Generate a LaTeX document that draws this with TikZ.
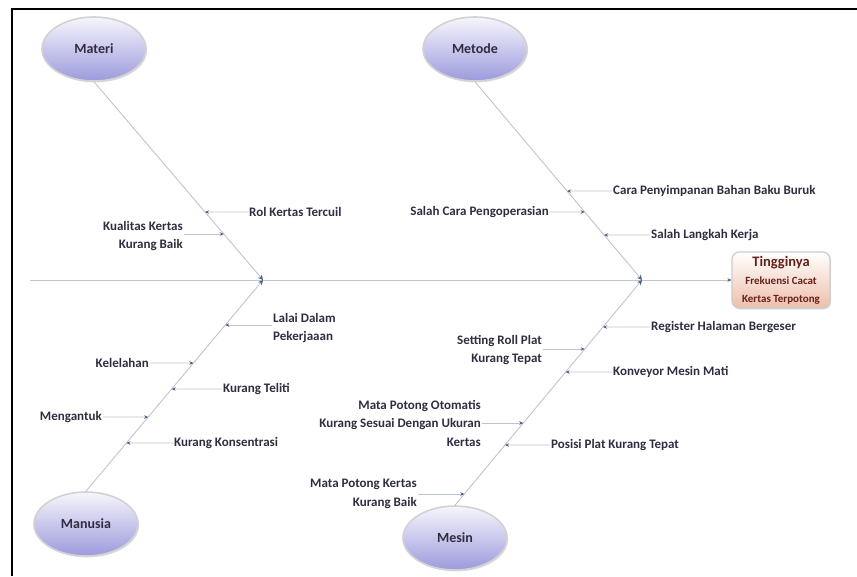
\documentclass[tikz,border=0pt]{standalone}
\usepackage{fontspec}
\setmainfont{Carlito}
\usetikzlibrary{arrows.meta,shadows,shapes.geometric}
\definecolor{txt}{RGB}{50,44,64}
\definecolor{bonec}{RGB}{190,196,208}
\definecolor{tipc}{RGB}{80,95,125}
\definecolor{elltop}{RGB}{246,246,252}
\definecolor{ellbot}{RGB}{156,154,220}
\definecolor{boxbot}{RGB}{238,190,170}
\definecolor{efftxt}{RGB}{100,34,26}
\newcommand\onbone[3]{\coordinate (#3) at (intersection of #1 and 0,#2--100,#2);}
\begin{document}
\begin{tikzpicture}[x=1pt,y=-1pt,
  cat/.style={ellipse, minimum width=104pt, minimum height=64pt, top color=elltop, bottom color=ellbot,
    draw=gray!35, line width=1.6pt, drop shadow={opacity=0.25, shadow xshift=1pt, shadow yshift=-1.5pt},
    font=\fontsize{14}{16}\selectfont\bfseries, text=txt},
  cause/.style={font=\fontsize{13}{18.5}\selectfont\bfseries, text=txt, inner sep=1pt},
  bone/.style={draw=bonec, line width=0.9pt, -{Stealth[length=5pt,width=5pt,color=tipc]}},
  sub/.style={draw=bonec, line width=0.9pt, -{Stealth[length=4pt,width=3.5pt,color=tipc]}},
  effect/.style={rectangle, rounded corners=7pt, minimum width=98pt, minimum height=56pt,
    top color=white, bottom color=boxbot, draw=gray!40, line width=1.2pt,
    drop shadow={opacity=0.25, shadow xshift=1pt, shadow yshift=-1.5pt},
    align=center, text=efftxt, font=\fontsize{11}{18}\selectfont\bfseries, inner sep=2pt},
]
\useasboundingbox (0,0) rectangle (857,576);
\draw[line width=2pt] (12,576) -- (12,9) -- (857,9);

% category ellipses
\node[cat] (materi)  at (94,49)  {Materi};
\node[cat] (metode)  at (475,49) {Metode};
\node[cat] (manusia) at (86,524) {Manusia};
\node[cat] (mesin)   at (455,538) {Mesin};

% effect
\node[effect] (effect) at (781,280) {{\fontsize{14.5}{18}\selectfont Tingginya}\\Frekuensi Cacat\\Kertas Terpotong};

% spine and junctions
\coordinate (s0) at (30,280);
\coordinate (j1) at (263,280);
\coordinate (j2) at (642,280);
\draw[sub] (s0) -- (effect);

\coordinate (mA) at (materi.south);
\coordinate (tA) at (metode.south);
\coordinate (hA) at (manusia.north);
\coordinate (eA) at (mesin.north);
\draw[bone] (mA) -- (j1);
\draw[bone] (hA) -- (j1);
\draw[bone] (tA) -- (j2);
\draw[bone] (eA) -- (j2);

% Materi causes
\node[cause, anchor=west] (r1) at (248,212) {Rol Kertas Tercuil};
\node[cause, anchor=east, align=right] (r2) at (184,236) {Kualitas Kertas\\Kurang Baik};
\onbone{mA--j1}{212}{m1}
\onbone{mA--j1}{234}{m2}
\draw[sub] (r1) -- (m1);
\draw[sub] (r2.east |- m2) -- (m2);

% Metode causes
\node[cause, anchor=west] (c1) at (612,191) {Cara Penyimpanan Bahan Baku Buruk};
\node[cause, anchor=east] (c2) at (550,212) {Salah Cara Pengoperasian};
\node[cause, anchor=west] (c3) at (650,235) {Salah Langkah Kerja};
\onbone{tA--j2}{191}{t1}
\onbone{tA--j2}{212}{t2}
\onbone{tA--j2}{235}{t3}
\draw[sub] (c1) -- (t1);
\draw[sub] (c2) -- (t2);
\draw[sub] (c3) -- (t3);

% Manusia causes
\node[cause, anchor=west, align=left] (h1) at (272,328) {Lalai Dalam\\Pekerjaaan};
\node[cause, anchor=east] (h2) at (150,363) {Kelelahan};
\node[cause, anchor=west] (h3) at (222,389) {Kurang Teliti};
\node[cause, anchor=east] (h4) at (103,417) {Mengantuk};
\node[cause, anchor=west] (h5) at (173,443) {Kurang Konsentrasi};
\onbone{hA--j1}{325}{u1}
\onbone{hA--j1}{363}{u2}
\onbone{hA--j1}{389}{u3}
\onbone{hA--j1}{417}{u4}
\onbone{hA--j1}{443}{u5}
\draw[sub] (h1.west |- u1) -- (u1);
\draw[sub] (h2) -- (u2);
\draw[sub] (h3) -- (u3);
\draw[sub] (h4) -- (u4);
\draw[sub] (h5) -- (u5);

% Mesin causes
\node[cause, anchor=west] (e1) at (650,327) {Register Halaman Bergeser};
\node[cause, anchor=east, align=right] (e2) at (543,350) {Setting Roll Plat\\Kurang Tepat};
\node[cause, anchor=west] (e3) at (612,372) {Konveyor Mesin Mati};
\node[cause, anchor=east, align=right] (e4) at (482,423) {Mata Potong Otomatis\\Kurang Sesuai Dengan Ukuran\\Kertas};
\node[cause, anchor=west] (e5) at (550,445) {Posisi Plat Kurang Tepat};
\node[cause, anchor=east, align=right] (e6) at (418,494) {Mata Potong Kertas\\Kurang Baik};
\onbone{eA--j2}{327}{g1}
\onbone{eA--j2}{349}{g2}
\onbone{eA--j2}{372}{g3}
\onbone{eA--j2}{423}{g4}
\onbone{eA--j2}{445}{g5}
\onbone{eA--j2}{494}{g6}
\draw[sub] (e1) -- (g1);
\draw[sub] (e2.east |- g2) -- (g2);
\draw[sub] (e3) -- (g3);
\draw[sub] (e4.east |- g4) -- (g4);
\draw[sub] (e5) -- (g5);
\draw[sub] (e6.east |- g6) -- (g6);
\end{tikzpicture}
\end{document}
